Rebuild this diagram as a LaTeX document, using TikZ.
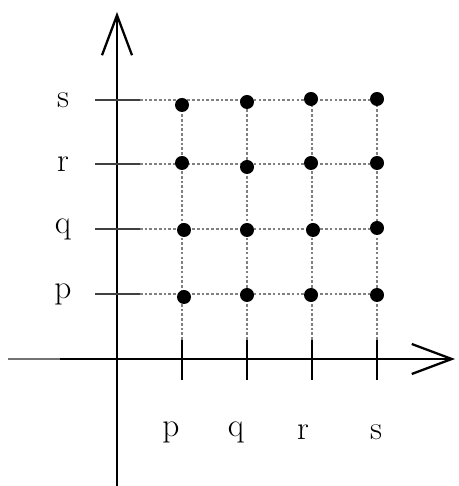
\documentclass[tikz,border=0pt]{standalone}
\usepackage{tikz}
\usetikzlibrary{arrows.meta,positioning}

\begin{document}
\begin{tikzpicture}[x=0.02cm, y=0.02cm, >={Straight Barb[length=0.8cm, width=0.6cm, line width=1.3pt]},
    axis/.style={line width=1.4pt},
    tick/.style={line width=1.4pt},
    ltick/.style={line width=1.6pt, black!75},
    grid/.style={gray, line width=0.9pt, dash pattern=on 1.5pt off 1.2pt},
    dot/.style={circle, fill=black, inner sep=0pt, minimum size=0.28cm},
    lbl/.style={font=\fontsize{19}{20}\selectfont}]
  \useasboundingbox (0,0) rectangle (459,486);
  % axes
  \coordinate (o) at (117,127);
  \coordinate (ybot) at (117,0);
  \coordinate (ytop) at (117,474);
  \coordinate (xleft) at (8,127);
  \coordinate (xgray) at (60,127);
  \coordinate (xright) at (455,127);
  \draw[line width=1.6pt, black!55] (xleft) -- (xgray);
  \draw[axis, ->] (xgray) -- (xright);
  \draw[axis, ->] (ybot) -- (ytop);
  % dotted grid
  \draw[grid] (140,386) -- (377,386);
  \draw[grid] (140,322) -- (377,322);
  \draw[grid] (140,257) -- (377,257);
  \draw[grid] (140,192) -- (377,192);
  \draw[grid] (182,386) -- (182,146);
  \draw[grid] (247,386) -- (247,146);
  \draw[grid] (312,386) -- (312,146);
  \draw[grid] (377,386) -- (377,146);
  % ticks on the x axis
  \draw[tick] (182,146) -- (182,106);
  \draw[tick] (247,146) -- (247,106);
  \draw[tick] (312,146) -- (312,106);
  \draw[tick] (377,146) -- (377,106);
  % ticks on the y axis
  \draw[ltick] (95,386) -- (140,386);
  \draw[ltick] (95,322) -- (140,322);
  \draw[ltick] (95,257) -- (140,257);
  \draw[ltick] (95,192) -- (140,192);
  % labels
  \node[lbl] (ys) at (63,386) {s};
  \node[lbl] (yr) at (63,322) {r};
  \node[lbl] (yq) at (63,257) {q};
  \node[lbl] (yp) at (63,192) {p};
  \node[lbl] (xp) at (171,54) {p};
  \node[lbl] (xq) at (236,54) {q};
  \node[lbl] (xr) at (303,54) {r};
  \node[lbl] (xs) at (376,54) {s};
  % the points
  \node[dot] (ps) at (182,381) {};
  \node[dot] (qs) at (247,384) {};
  \node[dot] (rs) at (311,387) {};
  \node[dot] (ss) at (377,387) {};
  \node[dot] (pr) at (182,323) {};
  \node[dot] (qr) at (247,319) {};
  \node[dot] (rr) at (311,323) {};
  \node[dot] (sr) at (377,323) {};
  \node[dot] (pq) at (184,256) {};
  \node[dot] (qq) at (247,256) {};
  \node[dot] (rq) at (313,256) {};
  \node[dot] (sq) at (377,258) {};
  \node[dot] (pp) at (184,189) {};
  \node[dot] (qp) at (247,191) {};
  \node[dot] (rp) at (311,191) {};
  \node[dot] (sp) at (377,191) {};
\end{tikzpicture}
\end{document}
